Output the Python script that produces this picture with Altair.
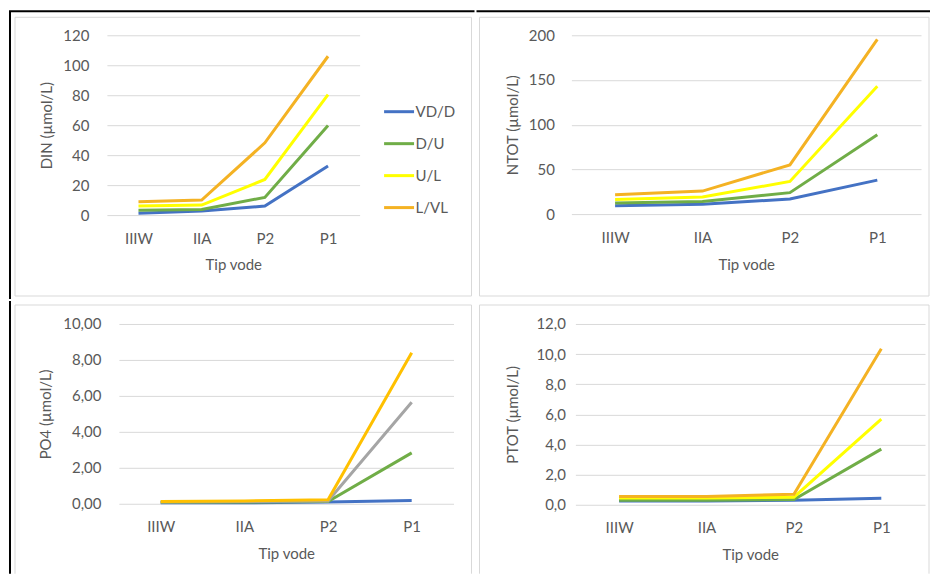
import altair as alt
import pandas as pd

categories = ["IIIW", "IIA", "P2", "P1"]
series = ["VD/D", "D/U", "U/L", "L/VL"]

din_vd_d = [1.2, 2.7, 6.0, 32.7]
din_d_u = [3.3, 3.8, 11.8, 59.8]
din_u_l = [6.0, 6.7, 23.8, 80.4]
din_l_vl = [8.9, 10.0, 48.2, 106.0]

ntot_vd_d = [9.3, 11.0, 16.8, 38.0]
ntot_d_u = [12.3, 14.0, 24.0, 88.6]
ntot_u_l = [16.4, 19.0, 36.5, 143.0]
ntot_l_vl = [21.6, 25.7, 55.0, 195.5]

po4_vd_d = [0.05, 0.05, 0.10, 0.18]
po4_d_u = [0.08, 0.10, 0.12, 2.83]
po4_u_l = [0.10, 0.12, 0.15, 5.65]
po4_l_vl = [0.12, 0.16, 0.22, 8.40]

ptot_vd_d = [0.25, 0.25, 0.30, 0.44]
ptot_d_u = [0.30, 0.30, 0.35, 3.69]
ptot_u_l = [0.45, 0.45, 0.50, 5.69]
ptot_l_vl = [0.55, 0.55, 0.70, 10.35]

colors_main = ["#4472C4", "#70AD47", "#FFFF00", "#F4B223"]
colors_po4 = ["#4472C4", "#70AD47", "#A5A5A5", "#FFC000"]

FONT = "Lato"
TXT = "#595959"
GRID = "#D9D9D9"

ONE = pd.DataFrame({"k": [0]})


def long_df(cols):
    rows = []
    for s, vals in zip(series, cols):
        for c, v in zip(categories, vals):
            rows.append({"cat": c, "series": s, "val": v})
    return pd.DataFrame(rows)


def make_panel(df, colors, ytitle, ymax, yvals, label_expr, origin, plot, tile, frame,
               open_bottom, blacks, ylabpad, ytitle_right, xlab_pad, xtitle_y, legend):
    # origin: page position of the panel group; plot: page (x0, x1, y0, h) of the drawn plot
    ox, oy = origin
    x0, x1, y0, h = plot
    w = x1 - ox
    layers = []
    tx0, ty0, tx1, ty1 = tile
    layers.append(alt.Chart(ONE).mark_rect(fill="white", opacity=0).encode(
        x=alt.value(tx0 - ox), x2=alt.value(tx1 - ox),
        y=alt.value(ty0 - oy), y2=alt.value(ty1 - oy)))
    fx0, fy0, fx1, fy1 = frame
    if open_bottom:
        layers.append(alt.Chart(ONE).mark_rule(color=GRID, strokeWidth=1).encode(
            x=alt.value(fx0 - ox), x2=alt.value(fx1 - ox), y=alt.value(fy0 - oy)))
        layers.append(alt.Chart(ONE).mark_rule(color=GRID, strokeWidth=1).encode(
            x=alt.value(fx0 - ox), y=alt.value(fy0 - oy), y2=alt.value(fy1 - oy)))
        layers.append(alt.Chart(ONE).mark_rule(color=GRID, strokeWidth=1).encode(
            x=alt.value(fx1 - ox), y=alt.value(fy0 - oy), y2=alt.value(fy1 - oy)))
    else:
        layers.append(alt.Chart(ONE).mark_rect(fill="transparent", stroke=GRID, strokeWidth=1).encode(
            x=alt.value(fx0 - ox), x2=alt.value(fx1 - ox),
            y=alt.value(fy0 - oy), y2=alt.value(fy1 - oy)))
    for kind, a, b0, b1 in blacks:
        if kind == "h":
            layers.append(alt.Chart(ONE).mark_rule(color="#000000", strokeWidth=2).encode(
                x=alt.value(b0 - ox), x2=alt.value(b1 - ox), y=alt.value(a - oy)))
        else:
            layers.append(alt.Chart(ONE).mark_rule(color="#000000", strokeWidth=2).encode(
                x=alt.value(a - ox), y=alt.value(b0 - oy), y2=alt.value(b1 - oy)))

    yaxis_kw = dict(title=ytitle, values=yvals, labelPadding=ylabpad,
                    offset=-(x0 - ox),
                    titleX=ytitle_right - x0, titleY=h / 2, grid=True)
    if label_expr:
        yaxis_kw["labelExpr"] = label_expr
    line = alt.Chart(df).mark_line(strokeWidth=3).encode(
        x=alt.X("cat:N", sort=categories,
                scale=alt.Scale(type="point", padding=0.5, range=[x0 - ox, x1 - ox]),
                axis=alt.Axis(title="Tip vode", labelAngle=0, grid=False,
                              labelPadding=xlab_pad, titleY=xtitle_y)),
        y=alt.Y("val:Q", scale=alt.Scale(domain=[0, ymax], nice=False, zero=True),
                axis=alt.Axis(**yaxis_kw)),
        color=alt.Color("series:N", sort=series,
                        scale=alt.Scale(domain=series, range=colors),
                        legend=legend),
    )
    layers.append(line)
    return alt.layer(*layers).properties(width=w, height=h)


legend_tl = alt.Legend(orient="none", legendX=276, legendY=60, title=None,
                       symbolType="stroke", symbolSize=900, symbolStrokeWidth=3,
                       labelFontSize=15, labelFont=FONT, labelColor=TXT,
                       rowPadding=7, labelOffset=0)

# column 1 panels share the group origin x=106, column 2 panels are placed by their tiles
tl = make_panel(long_df([din_vd_d, din_d_u, din_u_l, din_l_vl]), colors_main,
                "DIN (µmol/L)", 120, [0, 20, 40, 60, 80, 100, 120], None,
                origin=(106, 35), plot=(106, 359, 35, 180), tile=(8, 8, 475, 300),
                frame=(14, 17, 471, 296), open_bottom=False,
                blacks=[("h", 11, 8, 474), ("v", 9, 11, 299)],
                ylabpad=18, ytitle_right=54, xlab_pad=16, xtitle_y=42,
                legend=legend_tl)

tr = make_panel(long_df([ntot_vd_d, ntot_d_u, ntot_u_l, ntot_l_vl]), colors_main,
                "NTOT (µmol/L)", 200, [0, 50, 100, 150, 200], None,
                origin=(571, 35), plot=(571, 921, 35, 179), tile=(475, 8, 931, 300),
                frame=(479, 17, 929, 296), open_bottom=False,
                blacks=[("h", 11, 476, 930)],
                ylabpad=17, ytitle_right=520, xlab_pad=16, xtitle_y=43,
                legend=None)

bl = make_panel(long_df([po4_vd_d, po4_d_u, po4_u_l, po4_l_vl]), colors_po4,
                "PO4 (µmol/L)", 10, [0, 2, 4, 6, 8, 10],
                "replace(format(datum.value, '.2f'), '.', ',')",
                origin=(106, 324), plot=(118, 453, 324, 180), tile=(8, 300, 475, 575),
                frame=(14, 305, 471, 574), open_bottom=True,
                blacks=[("v", 9, 301, 574)],
                ylabpad=18, ytitle_right=53, xlab_pad=16, xtitle_y=43,
                legend=None)

br = make_panel(long_df([ptot_vd_d, ptot_d_u, ptot_u_l, ptot_l_vl]), colors_main,
                "PTOT (µmol/L)", 12, [0, 2, 4, 6, 8, 10, 12],
                "replace(format(datum.value, '.1f'), '.', ',')",
                origin=(575, 324), plot=(575, 925, 324, 181), tile=(475, 300, 931, 575),
                frame=(479, 305, 929, 574), open_bottom=True,
                blacks=[],
                ylabpad=10, ytitle_right=520, xlab_pad=16, xtitle_y=43,
                legend=None)

chart = alt.concat(tl, tr, bl, br, columns=2, spacing=0, align="none").resolve_scale(
    x="independent", y="independent", color="independent"
).properties(padding=0, background="white").configure_view(
    stroke=None
).configure_axis(
    labelFont=FONT, labelFontSize=15, labelColor=TXT,
    titleFont=FONT, titleFontSize=15, titleColor=TXT, titleFontWeight="normal",
    gridColor=GRID, gridWidth=1, domain=False, ticks=False, tickSize=0,
)

chart.save("out.html", embed_options={"renderer": "svg", "actions": False})
